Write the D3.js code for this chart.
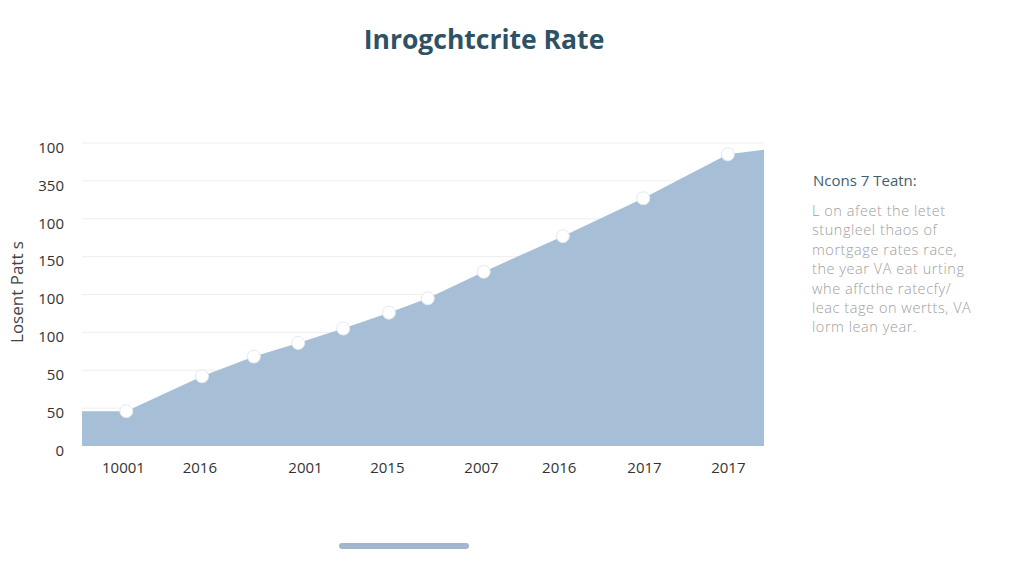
<!DOCTYPE html>
<html><head><meta charset="utf-8">
<script src="https://cdn.jsdelivr.net/npm/d3@7"></script>
<style>
html,body{margin:0;padding:0;background:#fff;}
svg{display:block;}
</style></head>
<body>
<svg id="chart" width="1024" height="585"></svg>
<script>
// ---- data ----
const titleText = "Inrogchtcrite Rate";
const yAxisTitle = "Losent Patt s";
const pointPos = [6.5, 17.6, 25.2, 31.7, 38.3, 45.0, 50.7, 58.9, 70.5, 82.3, 94.7];
const pointVals = [46, 92, 118, 136, 155, 176, 195, 230, 277, 327, 385];
const areaStartVal = 46;
const areaEndVal = 391;
const yTickVals = [0, 50, 100, 150, 200, 250, 300, 350, 400];
const yTickLabels = ["0", "50", "50", "100", "100", "150", "100", "350", "100"];
const xTickPos = [6.0, 17.2, 32.7, 44.7, 58.5, 69.9, 82.4, 94.7];
const xTickLabels = ["10001", "2016", "2001", "2015", "2007", "2016", "2017", "2017"];
const noteTitle = "Ncons 7 Teatn:";
const noteLines = ["L on afeet the letet", "stungleel thaos of", "mortgage rates race,",
  "the year VA eat urting", "whe affcthe ratecfy/", "leac tage on wertts, VA", "lorm lean year."];

// ---- layout ----
const svg = d3.select("#chart");
const x = d3.scaleLinear().domain([0, 100]).range([82, 764]);
const y = d3.scaleLinear().domain([0, 400]).range([446, 143]);
const font = "'Open Sans', 'Noto Sans', sans-serif";

svg.append("text").attr("x", 484).attr("y", 49).attr("text-anchor", "middle")
  .attr("font-family", font).attr("font-weight", 700).attr("font-size", 26.5)
  .attr("fill", "#2f5165").text(titleText);

// gridlines
svg.append("g").selectAll("line").data(yTickVals.slice(1)).join("line")
  .attr("x1", x(0)).attr("x2", x(100)).attr("y1", d => y(d)).attr("y2", d => y(d))
  .attr("stroke", "#eeeeee").attr("stroke-width", 1);

// area
const areaData = [[0, areaStartVal]].concat(pointPos.map((p, i) => [p, pointVals[i]]), [[100, areaEndVal]]);
const area = d3.area().x(d => x(d[0])).y0(y(0)).y1(d => y(d[1]));
svg.append("path").datum(areaData).attr("d", area).attr("fill", "#a6bed6");

// points
svg.append("g").selectAll("circle").data(pointPos).join("circle")
  .attr("cx", d => x(d)).attr("cy", (d, i) => y(pointVals[i])).attr("r", 6.5)
  .attr("fill", "#ffffff").attr("stroke", "#e3e9ef").attr("stroke-width", 1);

// y axis
const yAxis = d3.axisLeft(y).tickValues(yTickVals).tickSize(0).tickPadding(0)
  .tickFormat((d, i) => yTickLabels[i]);
const gy = svg.append("g").attr("transform", "translate(64,4.5)").call(yAxis);
gy.select(".domain").remove();
gy.selectAll("text").attr("font-family", font).attr("font-size", 15).attr("fill", "#333");

// x axis
const xAxis = d3.axisBottom(x).tickValues(xTickPos).tickSize(0).tickPadding(0)
  .tickFormat((d, i) => xTickLabels[i]);
const gx = svg.append("g").attr("transform", "translate(0,462)").call(xAxis);
gx.select(".domain").remove();
gx.selectAll("text").attr("font-family", font).attr("font-size", 15).attr("fill", "#333");

// y title
svg.append("text").attr("transform", "translate(23,292) rotate(-90)").attr("text-anchor", "middle")
  .attr("font-family", font).attr("font-size", 17).attr("fill", "#444").text(yAxisTitle);

// note
svg.append("text").attr("x", 813).attr("y", 186).attr("font-family", font)
  .attr("font-size", 15).attr("fill", "#3d5f70").text(noteTitle);
svg.append("g").selectAll("text").data(noteLines).join("text")
  .attr("x", 812).attr("y", (d, i) => 216 + i * 19.4)
  .attr("font-family", font).attr("font-weight", 300).attr("font-size", 14.5)
  .attr("letter-spacing", 0.55)
  .attr("fill", "#a0a0a0").text(d => d);

// bottom bar
svg.append("line").attr("x1", 342).attr("x2", 466).attr("y1", 546).attr("y2", 546)
  .attr("stroke", "#a2b7cc").attr("stroke-width", 6).attr("stroke-linecap", "round");
</script>
</body></html>
